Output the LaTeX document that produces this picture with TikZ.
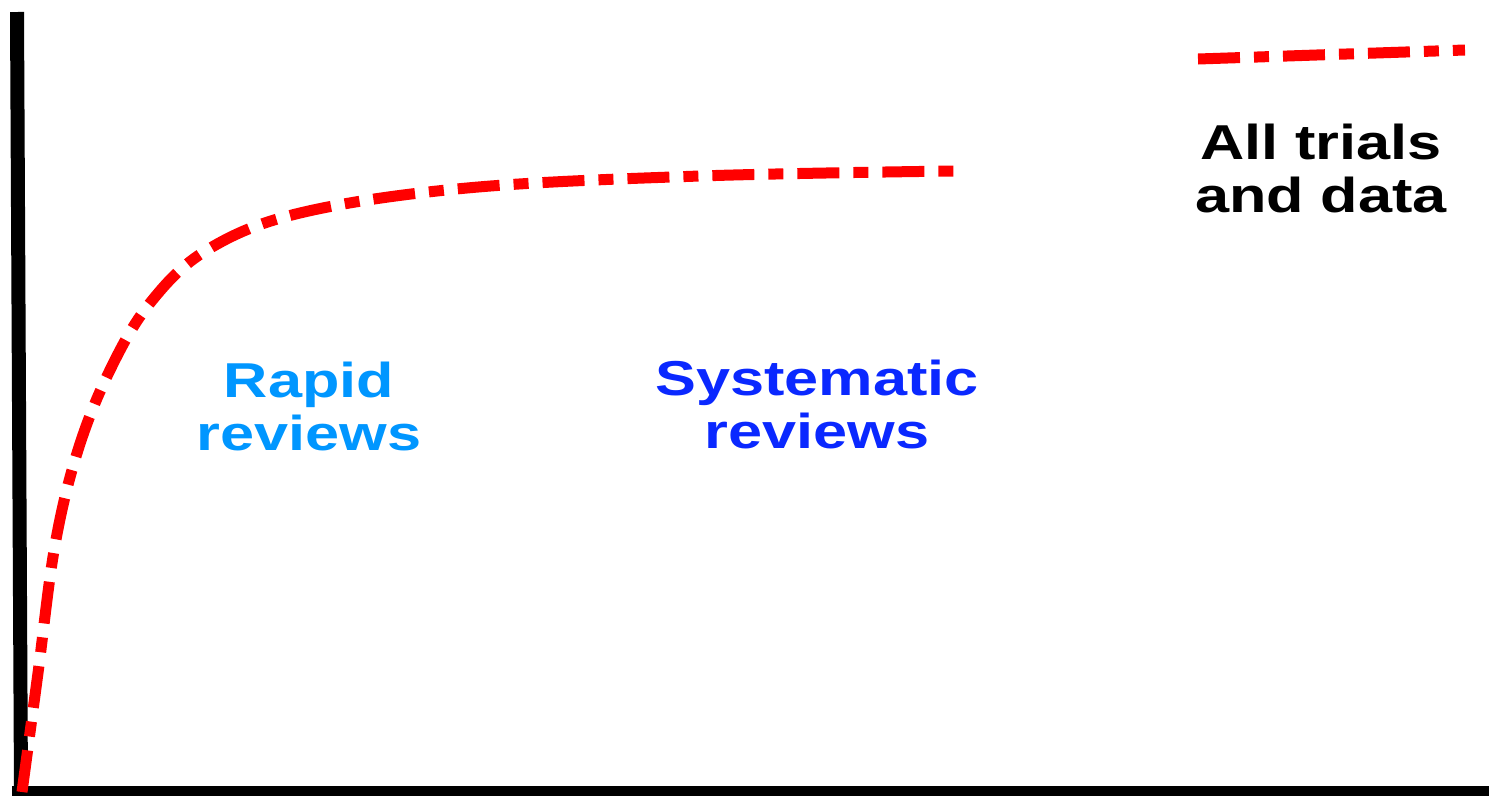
\documentclass[tikz,border=0pt]{standalone}
\usepackage{fontspec}
\setmainfont{Liberation Sans}[FakeStretch=1.25]
\definecolor{rapidblue}{RGB}{0,150,255}
\definecolor{sysblue}{RGB}{10,40,255}

\begin{document}
\begin{tikzpicture}[x=1pt, y=-1pt,
    axisline/.style={black, line width=#1},
    trend/.style={red, line width=11pt, dash pattern=on 42pt off 14pt on 15pt off 14pt},
    lbl/.style={font=\bfseries\fontsize{49}{53}\selectfont, align=center, anchor=base, inner sep=0pt}
  ]
  \useasboundingbox (0,0) rectangle (1489,796);
  % axes
  \coordinate (ytop) at (17,12);
  \coordinate (origin) at (21,791);
  \coordinate (xend) at (1489,791);
  \draw[axisline=14pt] (ytop) -- (origin);
  \draw[axisline=10pt] (origin -| 12,0) -- (xend);
  % curve
  \draw[trend] plot[smooth, tension=0.6] coordinates {(22,792) (38,673) (55,545) (78,450) (110,370) (150,303) (207,250) (300,213) (467,188) (700,176) (955,171)};
  \coordinate (keyA) at (1198,59);
  \coordinate (keyB) at (1465,50);
  \draw[trend] (keyA) -- (keyB);
  % labels (anchor sits on the second line)
  \node[lbl, text=rapidblue] (rapid) at (309,450) {Rapid\\reviews};
  \node[lbl, text=sysblue] (systematic) at (817,448) {Systematic\\reviews};
  \node[lbl, text=black] (alldata) at (1321,212) {All trials\\and data};
\end{tikzpicture}
\end{document}
